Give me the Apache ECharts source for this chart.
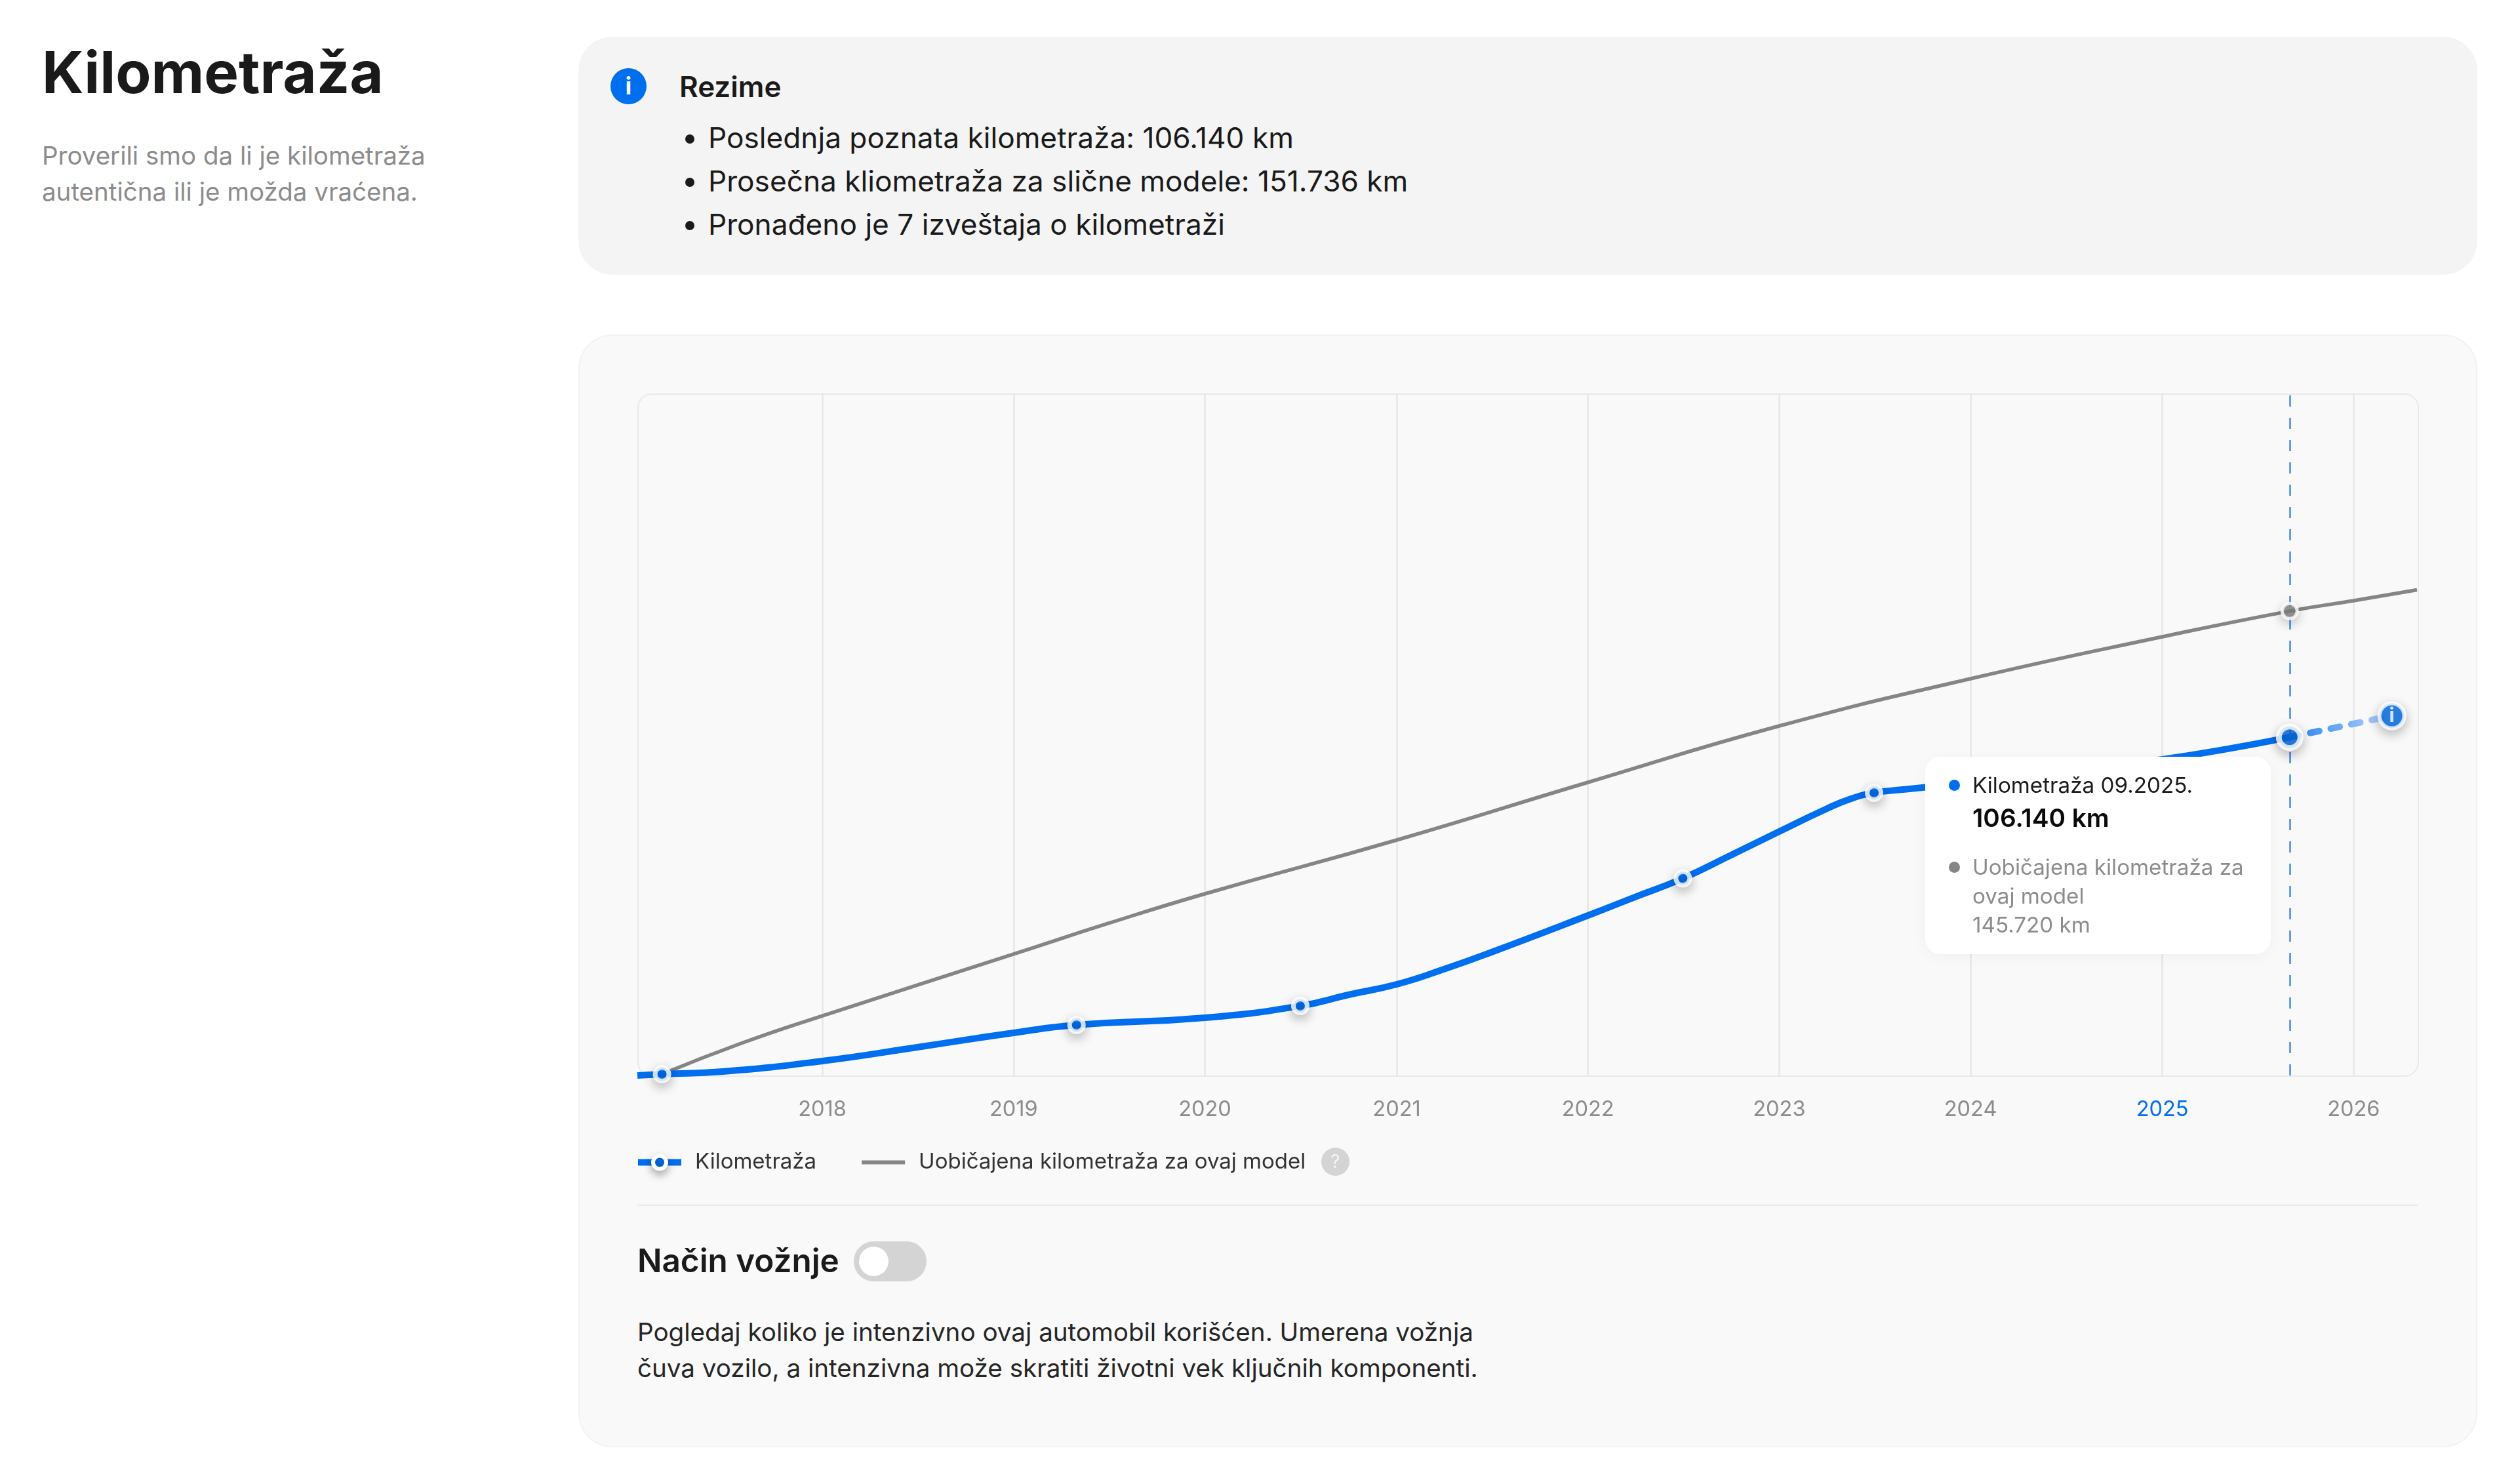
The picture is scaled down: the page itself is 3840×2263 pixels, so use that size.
<!DOCTYPE html>
<html>
<head>
<meta charset="utf-8">
<title>Kilometraža</title>
<script src="https://cdn.jsdelivr.net/npm/echarts@6/dist/echarts.min.js"></script>
<style>
html, body { margin: 0; padding: 0; background: #fff; }
body { position: relative; width: 3840px; height: 2263px; overflow: hidden; font-family: Inter, sans-serif; color: #1a1a1a; }
.abs { position: absolute; }
#title { left: 64px; top: 66px; font-size: 88.5px; line-height: 88px; font-weight: 700; margin: 0; }
#sub { left: 64px; top: 210px; font-size: 38.5px; line-height: 55px; color: #8c8c8c; }
#summary { left: 882px; top: 56px; width: 2896px; height: 363px; background: #f4f4f4; border-radius: 52px; }
#infoIcon { left: 931px; top: 104px; width: 55px; height: 55px; border-radius: 50%; background: #006fef; color: #fff; font-size: 36px; font-weight: 700; line-height: 55px; text-align: center; }
#rezime { left: 1036px; top: 99px; font-size: 44px; line-height: 66px; font-weight: 600; }
#facts { left: 1080px; top: 177px; margin: 0; padding: 0; font-size: 44.2px; line-height: 66px; }
#card { left: 882px; top: 510px; width: 2892px; height: 1693px; background: #f9f9f9; border: 2px solid #f2f2f2; border-radius: 52px; }
#plotBox { left: 972px; top: 600px; width: 2713px; height: 1038px; border: 2px solid #e9e9e9; border-radius: 22px; }
#chart { left: 882px; top: 508px; width: 2896px; height: 1330px; }
#help { left: 2015px; top: 1750px; width: 43px; height: 43px; border-radius: 50%; background: #d4d4d4; color: #f4f4f4; font-size: 28px; line-height: 43px; text-align: center; }
#divider { left: 972px; top: 1837px; width: 2715px; height: 2px; background: #e9e9e9; }
#mode { left: 972px; top: 1892px; font-size: 49.4px; line-height: 60px; font-weight: 600; }
#toggle { left: 1302px; top: 1893px; width: 111px; height: 61px; border-radius: 31px; background: #d4d4d4; }
#knob { left: 1310px; top: 1901px; width: 45px; height: 45px; border-radius: 50%; background: #fff; }
#about { left: 972px; top: 2004px; font-size: 38.6px; line-height: 55px; color: #262626; }
</style>
</head>
<body>
<h1 class="abs" id="title">Kilometraža</h1>
<div class="abs" id="sub">Proverili smo da li je kilometraža<br>autentična ili je možda vraćena.</div>

<div class="abs" id="summary"></div>
<div class="abs" id="infoIcon">i</div>
<div class="abs" id="rezime">Rezime</div>
<ul class="abs" id="facts">
    <li>Poslednja poznata kilometraža: 106.140 km</li>
    <li>Prosečna kliometraža za slične modele: 151.736 km</li>
    <li>Pronađeno je 7 izveštaja o kilometraži</li>
</ul>

<div class="abs" id="card"></div>
<div class="abs" id="plotBox"></div>
<div class="abs" id="chart"></div>
<div class="abs" id="help">?</div>
<div class="abs" id="divider"></div>
<div class="abs" id="mode">Način vožnje</div>
<div class="abs" id="toggle"></div>
<div class="abs" id="knob"></div>
<div class="abs" id="about">Pogledaj koliko je intenzivno ovaj automobil korišćen. Umerena vožnja<br>čuva vozilo, a intenzivna može skratiti životni vek ključnih komponenti.</div>

<script>
var BLUE = '#006fef';
var GREY = '#858585';

var yearTicks = ['2018-01-01', '2019-01-01', '2020-01-01', '2021-01-01', '2022-01-01', '2023-01-01', '2024-01-01', '2025-01-01', '2026-01-01'];

// values, km
var mileageDates = ['2017-01-13', '2017-03-01', '2017-06-25', '2018-01-01', '2018-07-01', '2019-01-01', '2019-05-01', '2020-01-01', '2020-07-01', '2020-10-01', '2021-01-01', '2021-04-01', '2021-07-01', '2022-01-01', '2022-04-01', '2022-07-01', '2022-10-01', '2023-01-01', '2023-04-01', '2023-05-18', '2023-07-01', '2023-08-25', '2023-10-01', '2024-01-01', '2025-01-01', '2025-09-01'];
var mileageValues = [0, 400, 1230, 4530, 8850, 13370, 15840, 18100, 21810, 25310, 28600, 33330, 38680, 50200, 56000, 61830, 69140, 76540, 83660, 86830, 88680, 89710, 90330, 91980, 99180, 106140];

var typicalDates = ['2017-03-01', '2017-07-30', '2018-01-01', '2019-01-01', '2019-07-01', '2020-01-01', '2021-01-01', '2022-01-01', '2023-01-01', '2024-01-01', '2025-01-01', '2025-09-01', '2026-01-01', '2026-05-02'];
var typicalValues = [400, 10080, 18720, 38070, 47740, 57000, 73870, 91980, 109670, 124490, 137650, 145720, 148970, 152370];

var reportDates = ['2017-03-01', '2019-05-01', '2020-07-01', '2022-07-01', '2023-07-01', '2025-09-01'];
var reportValues = [400, 15840, 21810, 61830, 88680, 106140];

var lastDate = '2025-09-01';
var estimateDate = '2026-03-15';
var estimateValue = 112850;

function ts(d) {
    return Date.parse(d);
}

function pairs(xs, ys) {
    var out = [];
    for (var i = 0; i < xs.length; i++) {
        out.push([ts(xs[i]), ys[i]]);
    }
    return out;
}

var chart = echarts.init(document.getElementById('chart'));

var reportData = [];
for (var i = 0; i < reportDates.length; i++) {
    var big = reportDates[i] === lastDate;
    reportData.push({
        value: [ts(reportDates[i]), reportValues[i]],
        symbolSize: big ? 33 : 21,
        itemStyle: { borderWidth: big ? 9 : 7 }
    });
}

var tooltipHtml =
    '<div style="position:relative;width:527px;height:301px;font-family:Inter,sans-serif;font-size:33.2px;line-height:44px;">' +
    '<span style="position:absolute;left:36px;top:35px;width:17px;height:17px;border-radius:50%;background:' + BLUE + ';"></span>' +
    '<div style="position:absolute;left:72px;top:21px;color:#1a1a1a;">Kilometraža 09.2025.</div>' +
    '<div style="position:absolute;left:72px;top:71px;color:#0a0a0a;font-size:38.7px;font-weight:600;">106.140 km</div>' +
    '<span style="position:absolute;left:36px;top:160px;width:17px;height:17px;border-radius:50%;background:' + GREY + ';"></span>' +
    '<div style="position:absolute;left:72px;top:146px;color:#8c8c8c;">Uobičajena kilometraža za<br>ovaj model<br>145.720 km</div>' +
    '</div>';

var option = {
    animation: false,
    backgroundColor: 'transparent',
    textStyle: { fontFamily: 'Inter' },
    grid: { left: 90, right: 92, top: 92, bottom: 198 },
    xAxis: {
        type: 'value',
        min: ts('2017-01-13'),
        max: ts('2026-05-02'),
        axisLine: { show: false },
        axisTick: { show: false, customValues: yearTicks.map(ts) },
        splitLine: { show: true, lineStyle: { color: '#e6e6e6', width: 2.5 } },
        axisLabel: {
            customValues: yearTicks.map(ts),
            margin: 36,
            fontSize: 32.5,
            fontFamily: 'Inter',
            color: '#8c8c8c',
            formatter: function (value) {
                var y = new Date(value).getUTCFullYear();
                return y === 2025 ? '{now|' + y + '}' : '' + y;
            },
            rich: { now: { color: BLUE, fontSize: 32.5, fontFamily: 'Inter' } }
        }
    },
    yAxis: {
        type: 'value',
        min: 0,
        max: 214000,
        show: false
    },
    legend: {
        left: 86,
        top: 1248,
        padding: 0,
        itemWidth: 66,
        itemHeight: 25,
        itemGap: 66,
        selectedMode: false,
        textStyle: { fontFamily: 'Inter', fontSize: 33, color: '#333', padding: [0, 0, 0, 16] },
        data: [
            {
                name: 'Kilometraža',
                lineStyle: { color: BLUE, width: 10 },
                itemStyle: { color: BLUE, borderColor: '#fff', borderWidth: 6, shadowBlur: 14, shadowColor: 'rgba(0,0,0,0.3)', shadowOffsetY: 6 }
            },
            {
                name: 'Uobičajena kilometraža za ovaj model',
                lineStyle: { color: GREY, width: 6 },
                itemStyle: { opacity: 0 }
            }
        ]
    },
    tooltip: {
        trigger: 'item',
        alwaysShowContent: true,
        transitionDuration: 0,
        padding: 0,
        borderWidth: 0,
        backgroundColor: '#fff',
        extraCssText: 'border-radius:24px;box-shadow:0 4px 24px rgba(0,0,0,0.04);',
        position: [2054, 646],
        formatter: function () { return tooltipHtml; }
    },
    series: [
        {
            name: 'Uobičajena kilometraža za ovaj model',
            type: 'line',
            z: 3,
            smooth: 0.5,
            symbol: 'circle',
            showSymbol: false,
            silent: true,
            lineStyle: { color: GREY, width: 5.5 },
            itemStyle: { color: GREY },
            data: pairs(typicalDates, typicalValues)
        },
        {
            name: 'Kilometraža',
            type: 'line',
            z: 4,
            smooth: 0.5,
            symbol: 'circle',
            showSymbol: false,
            silent: true,
            lineStyle: { color: BLUE, width: 10 },
            itemStyle: { color: BLUE },
            data: pairs(mileageDates, mileageValues),
            markLine: {
                silent: true,
                symbol: 'none',
                z: 2,
                label: { show: false },
                lineStyle: { color: '#3f8ae6', width: 2.5, type: [17, 17] },
                data: [{ xAxis: ts(lastDate) }]
            }
        },
        {
            name: 'Procena',
            type: 'line',
            z: 4,
            showSymbol: false,
            silent: true,
            lineStyle: {
                width: 10,
                cap: 'round',
                type: [14, 18],
                color: new echarts.graphic.LinearGradient(0, 0, 1, 0, [
                    { offset: 0, color: '#1f7ff0' },
                    { offset: 1, color: '#c2d9fb' }
                ])
            },
            data: pairs([lastDate, estimateDate], [reportValues[5], estimateValue])
        },
        {
            name: 'Izveštaji',
            type: 'scatter',
            z: 6,
            symbol: 'circle',
            itemStyle: { color: BLUE, borderColor: '#fff', borderWidth: 7, shadowBlur: 18, shadowColor: 'rgba(0,0,0,0.3)', shadowOffsetY: 6 },
            emphasis: { disabled: true },
            data: reportData
        },
        {
            name: 'Prosek',
            type: 'scatter',
            z: 6,
            symbol: 'circle',
            symbolSize: 23,
            silent: true,
            itemStyle: { color: GREY, borderColor: '#fff', borderWidth: 5, shadowBlur: 18, shadowColor: 'rgba(0,0,0,0.25)', shadowOffsetY: 6 },
            data: [[ts(lastDate), typicalValues[11]]]
        },
        {
            name: 'Procena tačka',
            type: 'scatter',
            z: 6,
            symbol: 'circle',
            symbolSize: 38,
            silent: true,
            itemStyle: { color: BLUE, borderColor: '#fff', borderWidth: 6, shadowBlur: 18, shadowColor: 'rgba(0,0,0,0.3)', shadowOffsetY: 6 },
            label: { show: true, position: 'inside', formatter: 'i', color: '#fff', fontSize: 30, fontWeight: 700, fontFamily: 'Inter' },
            data: [[ts(estimateDate), estimateValue]]
        }
    ]
};
chart.setOption(option);
chart.dispatchAction({ type: 'showTip', seriesIndex: 3, dataIndex: 5 });
</script>
</body>
</html>
